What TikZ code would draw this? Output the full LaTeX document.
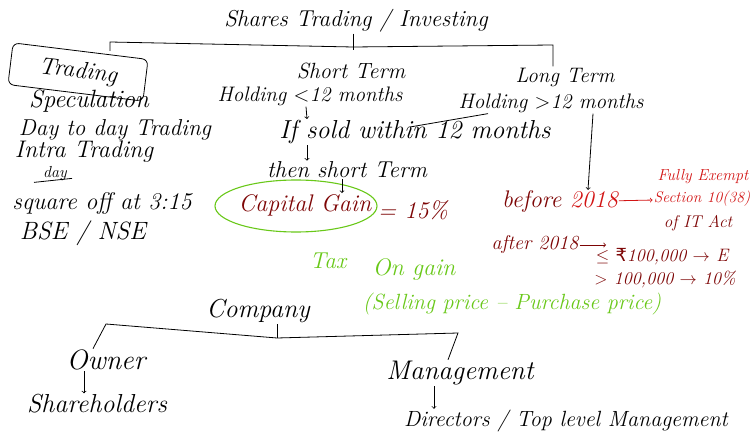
\documentclass[tikz,border=0pt]{standalone}
\usepackage{fontspec}
\newfontfamily\rupeefont{DejaVu Sans}
\usetikzlibrary{shapes.geometric}
\definecolor{inkred}{RGB}{210,20,20}
\definecolor{inkdark}{RGB}{125,5,5}
\definecolor{inkgreen}{RGB}{105,200,25}
\tikzset{
  hand/.style     = {font=\itshape\fontsize{#1}{#1}\selectfont, inner sep=1pt},
  hand/.default   = 22,
  tradebox/.style = {draw, rounded corners=6pt, line width=0.8pt,
                     minimum width=136, minimum height=42},
  ring/.style     = {draw=inkgreen, ellipse, line width=1.1pt,
                     minimum width=162, minimum height=52},
  link/.style     = {line width=0.8pt},
}

\begin{document}
\begin{tikzpicture}[x=1pt, y=-1pt, every node/.style={hand}]
	\useasboundingbox (0,0) rectangle (753,446);

	% shares: trading vs. investing
	\node [hand=23] (shares) at (356,21) {Shares Trading / Investing};
	\node [tradebox, rotate=-7, hand=24] (trading) at (78,72) {Trading};
	\node [hand=25] (spec) at (89,101) {Speculation};
	\node [hand=23] (daytoday) at (115,130) {Day to day Trading};
	\node [hand=24] (intra) at (84,152) {Intra Trading};
	\node [hand=16] (dayword) at (55,174) {day};
	\node [hand=24] (squareoff) at (102,204) {square off at 3:15};
	\node [hand=25] (bse) at (83,233) {BSE / NSE};

	\node [hand=22] (shortterm) at (351,71) {Short Term};
	\node [hand=21] (holdshort) at (310,96) {Holding $<$12 months};
	\node [hand=26] (ifsold) at (415,132) {If sold within 12 months};
	\node [hand=23] (thenshort) at (347,170) {then short Term};
	\node [ring] (gainring) at (296,206) {};
	\node [hand=24, inkdark] (capgain) at (305,205) {Capital Gain};
	\node [hand=24, inkdark] (fifteen) at (413,210) {= 15\%};

	\node [hand=21] (longterm) at (565,77) {Long Term};
	\node [hand=21] (holdlong) at (551,103) {Holding $>$12 months};
	\node [hand=24] (before) at (560,202) {{\color{inkdark}before} {\color{inkred}2018}};
	\node [hand=16, inkred] (exempt) at (703,177) {Fully Exempt};
	\node [hand=15.5, inkred] (section) at (702,199) {Section 10(38)};
	\node [hand=17, inkdark] (itact) at (698,223) {of IT Act};
	\node [hand=20, inkdark] (after) at (535,245) {after 2018};
	\node [hand=18, inkdark] (uptolakh) at (662,257) {$\leq$ {\rupeefont\upshape ₹}100,000 $\rightarrow$ E};
	\node [hand=18, inkdark] (overlakh) at (665,279) {$>$ 100,000 $\rightarrow$ 10\%};

	\node [hand=23, inkgreen] (tax) at (328,261) {Tax};
	\node [hand=24, inkgreen] (ongain) at (414,270) {On gain};
	\node [hand=22, inkgreen] (diff) at (512,304) {(Selling price -- Purchase price)};

	% company
	\node [hand=26] (company) at (258,311) {Company};
	\node [hand=28] (owner) at (106,360) {Owner};
	\node [hand=26] (share) at (97,404) {Shareholders};
	\node [hand=27] (mgmt) at (460,373) {Management};
	\node [hand=22] (directors) at (566,421) {Directors / Top level Management};

	% brackets
	\coordinate (brL) at (110,42);
	\coordinate (brM) at (353,47);
	\coordinate (brR) at (553,45);
	\draw [link] (shares.south -| brM) -- ([yshift=-3]brM);
	\draw [link] (trading.north -| brL) -- (brL) -- (brM) -- (brR) -- (longterm.north -| brR);

	\coordinate (cbL) at (106,324);
	\coordinate (cbM) at (277,338);
	\coordinate (cbR) at (458,333);
	\draw [link] (cbM |- company.south) -- (cbM);
	\draw [link] ([xshift=-13]owner.north) -- (cbL) -- (cbM) -- (cbR) -- ([xshift=-12]mgmt.north);

	% arrows
	\draw [->, link] ([xshift=-4]holdshort.south) -- ([xshift=-108]ifsold.north);
	\draw [->, link] ([xshift=-108]ifsold.south) -- ([xshift=-40]thenshort.north);
	\draw [->, link] ([xshift=-5]thenshort.south) -- ([xshift=37]capgain.north);
	\draw [link] ([xshift=-5, yshift=-8]ifsold.north) -- ([xshift=-63]holdlong.south);
	\draw [->, link] ([xshift=42]holdlong.south) -- ([xshift=28]before.north);
	\draw [->, link, inkred] (before) -- (section);
	\coordinate (afterend) at (606,245);
	\draw [->, link, inkdark] (after) -- (afterend);
	\draw [->, link] ([xshift=-22]owner.south) -- ([xshift=-13]share.north);
	\draw [->, link] ([xshift=-26]mgmt.south) -- ([xshift=-132]directors.north);

	% underline
	\draw [link] ([xshift=-8]dayword.south west) -- ([xshift=4, yshift=4]dayword.south east);
\end{tikzpicture}
\end{document}
